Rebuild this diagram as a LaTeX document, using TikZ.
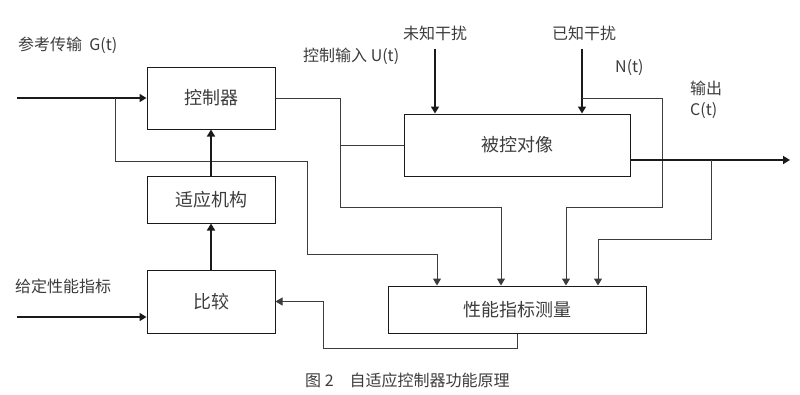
\documentclass[tikz,border=0pt]{standalone}
\usepackage{fontspec}
\setmainfont{Noto Sans CJK SC}
\usepackage{xcolor}
\usepackage{tikz}
\usetikzlibrary{arrows.meta,calc}
\definecolor{ink}{HTML}{1A1A1A}
\definecolor{wiregray}{HTML}{3C3C3C}
\tikzset{
  block/.style = {rectangle, draw=ink, line width=1pt, minimum width=#1, inner sep=0pt,
                  font=\fontsize{18}{21}\selectfont, text=ink!85},
  flow/.style  = {-{Triangle[length=7pt, width=8pt]}, line width=1.6pt, draw=ink},
  wire/.style  = {line width=1pt, draw=wiregray},
  tap/.style   = {wire, -{Triangle[length=7pt, width=8pt]}},
  lbl/.style   = {font=\fontsize{16}{19}\selectfont, text=ink!85, inner sep=0pt},
}

\begin{document}
\begin{tikzpicture}[x=1pt, y=-1pt]
  \useasboundingbox (0,0) rectangle (800,394);

  % blocks
  \node[block=128pt, minimum height=62pt] (ctrl) at (211,98)    {控制器};
  \node[block=128pt, minimum height=47pt] (adp)  at (211,199.5) {适应机构};
  \node[block=128pt, minimum height=63pt] (cmp)  at (211,301.5) {比较};
  \node[block=226pt, minimum height=62pt] (plant) at (517,145)  {被控对像};
  \node[block=258pt, minimum height=47pt] (meas) at (517,309.5) {性能指标测量};

  % labels
  \node[lbl, anchor=west] (glbl) at (18,45)  {参考传输\ \ G(t)};
  \node[lbl, anchor=west] (ulbl) at (303,56) {控制输入 U(t)};
  \node[lbl] (unk)   at (435,33)  {未知干扰};
  \node[lbl] (known) at (584,33)  {已知干扰};
  \node[lbl, anchor=west] (nlbl) at (615,68)  {N(t)};
  \node[lbl, anchor=west] (olbl) at (690,88)  {输出};
  \node[lbl, anchor=west] (clbl) at (690,111) {C(t)};
  \node[lbl, anchor=west] (plbl) at (15,286)  {给定性能指标};
  \node[lbl, anchor=west, font=\fontsize{16}{19}\selectfont] (cap) at (305,380) {图 2\quad 自适应控制器功能原理};

  % turning points
  \coordinate (gin) at (17,98);
  \coordinate (gb)  at (115,98);
  \coordinate (g1)  at (307,161);
  \coordinate (g2)  at (437,254);
  \coordinate (ub)  at (340,145);
  \coordinate (u1)  at (340,207);
  \coordinate (u2)  at (501,207);
  \coordinate (nb)  at (582,98);
  \coordinate (n1)  at (662,207);
  \coordinate (n2)  at (566,207);
  \coordinate (cout) at (790,160);
  \coordinate (cb)  at (711,160);
  \coordinate (c1)  at (598,239);
  \coordinate (fb)  at (323,348);
  \coordinate (pin) at (17,317);

  % reference path
  \draw[flow] (gin) -- (ctrl.west);
  \draw[tap] (gb) |- (g1) |- (g2) -- (g2 |- meas.north);

  % control input
  \draw[tap] (ctrl.east) -| (u1) -- (u2) -- (u2 |- meas.north);
  \draw[wire] (ub) -- (plant.west);

  % disturbances
  \draw[flow] ([yshift=-8pt]unk.south) -- (unk.south |- plant.north);
  \draw[flow] ([yshift=-8pt]known.south -| nb) -- (nb |- plant.north);
  \draw[tap] (nb) -| (n1) -- (n2) -- (n2 |- meas.north);

  % output
  \draw[flow, line width=2pt] (plant.east |- cout) -- (cout);
  \draw[tap] (cb) |- (c1) -- (c1 |- meas.north);

  % feedback to comparison
  \draw[tap] (meas.south) |- (fb) |- (cmp.east);
  \draw[flow] (pin) -- (pin -| cmp.west);
  \draw[flow] (cmp.north) -- (adp.south);
  \draw[flow] (adp.north) -- (ctrl.south);
\end{tikzpicture}
\end{document}
